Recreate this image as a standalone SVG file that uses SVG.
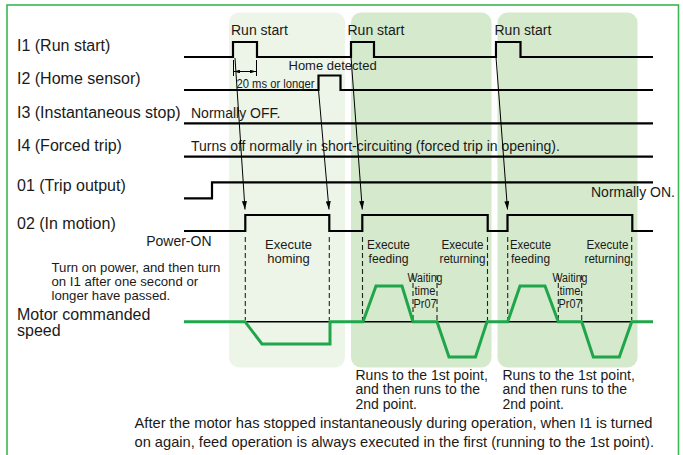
<svg xmlns="http://www.w3.org/2000/svg" width="683" height="455" viewBox="0 0 683 455">
<defs>
<marker id="ah" viewBox="0 0 10 6" refX="10" refY="3" markerWidth="9" markerHeight="5" markerUnits="userSpaceOnUse" orient="auto"><path d="M0,0 L10,3 L0,6 z" fill="#000"/></marker>
<marker id="ahs" viewBox="0 0 10 6" refX="10" refY="3" markerWidth="6" markerHeight="3.6" markerUnits="userSpaceOnUse" orient="auto-start-reverse"><path d="M0,0 L10,3 L0,6 z" fill="#000"/></marker>
</defs>
<style>
text{font-family:"Liberation Sans",Arial,Helvetica,sans-serif;fill:#1a1a1a}
.lbl{font-size:16px}
.t14{font-size:14px}
.t13{font-size:13px}
.mid{text-anchor:middle}
.sig{fill:none;stroke:#000;stroke-width:2.2;stroke-linejoin:miter}
.dash{fill:none;stroke:#222;stroke-width:1.1;stroke-dasharray:5 3}
.arr{fill:none;stroke:#000;stroke-width:1;marker-end:url(#ah)}
.thin{fill:none;stroke:#000;stroke-width:1}
.motor{fill:none;stroke:#1fa64a;stroke-width:3;stroke-linejoin:miter}
.base{fill:none;stroke:#000;stroke-width:1.6}
.pale{fill:#edf5e8}
.dark{fill:#d5e9cc}
</style>
<rect x="0" y="0" width="683" height="455" fill="#fff"/>
<rect x="7" y="5" width="671.5" height="470" fill="#fff" stroke="#3db554" stroke-width="1.6"/>

<g id="panels">
<rect id="panel-homing" class="pale" x="229" y="12.5" width="116" height="355" rx="10"/>
<rect id="panel-cycle1" class="dark" x="351" y="12.5" width="140.5" height="355" rx="10"/>
<rect id="panel-cycle2" class="dark" x="497.5" y="12.5" width="140" height="355" rx="10"/>
</g>

<g id="row-labels">
<text class="lbl" x="17" y="50.5">I1 (Run start)</text>
<text class="lbl" x="17" y="83.5">I2 (Home sensor)</text>
<text class="lbl" x="17" y="117.5">I3 (Instantaneous stop)</text>
<text class="lbl" x="17" y="150.5">I4 (Forced trip)</text>
<text class="lbl" x="17" y="191">01 (Trip output)</text>
<text class="lbl" x="17" y="228.5">02 (In motion)</text>
<text class="lbl" x="17" y="320">Motor commanded</text>
<text class="lbl" x="17" y="336">speed</text>
</g>

<g id="sig-I1">
<path class="sig" d="M184,57 H233 V42 H257 V57 H351 V42 H374 V57 H496 V42 H520.5 V57 H653"/>
<text class="t14" x="231" y="35">Run start</text>
<text class="t14" x="347.5" y="35">Run start</text>
<text class="t14" x="494.5" y="35">Run start</text>
</g>

<g id="sig-I2">
<path class="sig" d="M184,90 H318.5 V75.5 H340.5 V90 H653"/>
<text class="t13" x="288.5" y="70">Home detected</text>
</g>

<g id="pulse-width">
<path class="thin" d="M233.5,60 V76 M256.5,60 V76"/>
<path class="thin" d="M234,71.5 H256" marker-start="url(#ahs)" marker-end="url(#ahs)"/>
<text x="236.5" y="87.5" font-size="12" textLength="78" lengthAdjust="spacingAndGlyphs">20 ms or longer</text>
</g>

<g id="sig-I3">
<path class="sig" d="M184,123.3 H653"/>
<text class="t14" x="191" y="118">Normally OFF.</text>
</g>

<g id="sig-I4">
<path class="sig" d="M184,156.7 H653"/>
<text class="t14" x="191" y="150.5">Turns off normally in short-circuiting (forced trip in opening).</text>
</g>

<g id="sig-01">
<path class="sig" d="M184,198.3 H212 V182.3 H653"/>
<text class="t14" x="675" y="196.5" text-anchor="end">Normally ON.</text>
</g>

<g id="sig-02">
<path class="sig" d="M184,231 H245.3 V215 H329.3 V231 H362.3 V215 H487.7 V231 H507.5 V215 H632.3 V231 H653"/>
<text class="t14" x="211.5" y="246" text-anchor="end">Power-ON</text>
</g>

<g id="note-power">
<text x="51.5" y="271.5" font-size="13.2">Turn on power, and then turn</text>
<text x="51.5" y="285.5" font-size="13.2">on I1 after one second or</text>
<text x="51.5" y="300" font-size="13.2">longer have passed.</text>
</g>

<g id="dashes">
<path class="dash" d="M245.3,237 V320 M329.3,237 V320 M362.5,237 V320 M487.5,237 V320 M413,275 V320 M437,275 V320 M507.7,237 V320 M631.7,237 V320 M558.3,275 V320 M581.7,275 V320"/>
</g>

<g id="phase-labels">
<text class="t13 mid" x="288.5" y="248.5">Execute</text>
<text class="t13 mid" x="288.5" y="262.5">homing</text>
<text class="t13 mid" x="388.5" y="248.5" textLength="43" lengthAdjust="spacingAndGlyphs">Execute</text>
<text class="t13 mid" x="388.5" y="262.5" textLength="40" lengthAdjust="spacingAndGlyphs">feeding</text>
<text class="t13 mid" x="462.5" y="248.5" textLength="42" lengthAdjust="spacingAndGlyphs">Execute</text>
<text class="t13 mid" x="462.5" y="262.5" textLength="46" lengthAdjust="spacingAndGlyphs">returning</text>
<text class="t13 mid" x="530.5" y="248.5" textLength="41" lengthAdjust="spacingAndGlyphs">Execute</text>
<text class="t13 mid" x="530.5" y="262.5" textLength="39" lengthAdjust="spacingAndGlyphs">feeding</text>
<text class="t13 mid" x="607.5" y="248.5" textLength="42" lengthAdjust="spacingAndGlyphs">Execute</text>
<text class="t13 mid" x="607.5" y="262.5" textLength="46" lengthAdjust="spacingAndGlyphs">returning</text>
<text class="mid" x="425" y="282" font-size="12" textLength="35" lengthAdjust="spacingAndGlyphs">Waiting</text>
<text class="mid" x="425" y="295" font-size="12" textLength="21" lengthAdjust="spacingAndGlyphs">time</text>
<text class="mid" x="425" y="308" font-size="12" textLength="23" lengthAdjust="spacingAndGlyphs">Pr07</text>
<text class="mid" x="570" y="282" font-size="12" textLength="35" lengthAdjust="spacingAndGlyphs">Waiting</text>
<text class="mid" x="570" y="295" font-size="12" textLength="21" lengthAdjust="spacingAndGlyphs">time</text>
<text class="mid" x="570" y="308" font-size="12" textLength="23" lengthAdjust="spacingAndGlyphs">Pr07</text>
</g>

<g id="sig-motor">
<path class="base" d="M245,321.7 H330 M363,321.7 H413 M437,321.7 H487 M507.7,321.7 H558.3 M581.7,321.7 H631.7"/>
<path class="motor" d="M184,321.7 H245 L262,344 H330 V321.7 H363 L376,286 H402 L413,321.7 H437 L449,357 H475.5 L487,321.7 H507.7 L520,286 H545 L558.3,321.7 H581.7 L593.3,357 H619.3 L631.7,321.7 H653"/>
</g>

<g id="connectors">
<path class="arr" d="M235,58 L245,209.5"/>
<path class="arr" d="M318.5,90 L329,209.5"/>
<path class="arr" d="M351,57 L362.3,209.5"/>
<path class="arr" d="M496,57 L507.5,209.5"/>
</g>

<g id="notes-bottom">
<text class="t14" x="355.5" y="379.5">Runs to the 1st point,</text>
<text class="t14" x="355.5" y="394">and then runs to the</text>
<text class="t14" x="355.5" y="408.5">2nd point.</text>
<text class="t14" x="502.5" y="379.5">Runs to the 1st point,</text>
<text class="t14" x="502.5" y="394">and then runs to the</text>
<text class="t14" x="502.5" y="408.5">2nd point.</text>
<text x="134.5" y="428.3" font-size="14.6" textLength="518" lengthAdjust="spacingAndGlyphs">After the motor has stopped instantaneously during operation, when I1 is turned</text>
<text x="134.5" y="446.5" font-size="14.6" textLength="519.5" lengthAdjust="spacingAndGlyphs">on again, feed operation is always executed in the first (running to the 1st point).</text>
</g>
</svg>
